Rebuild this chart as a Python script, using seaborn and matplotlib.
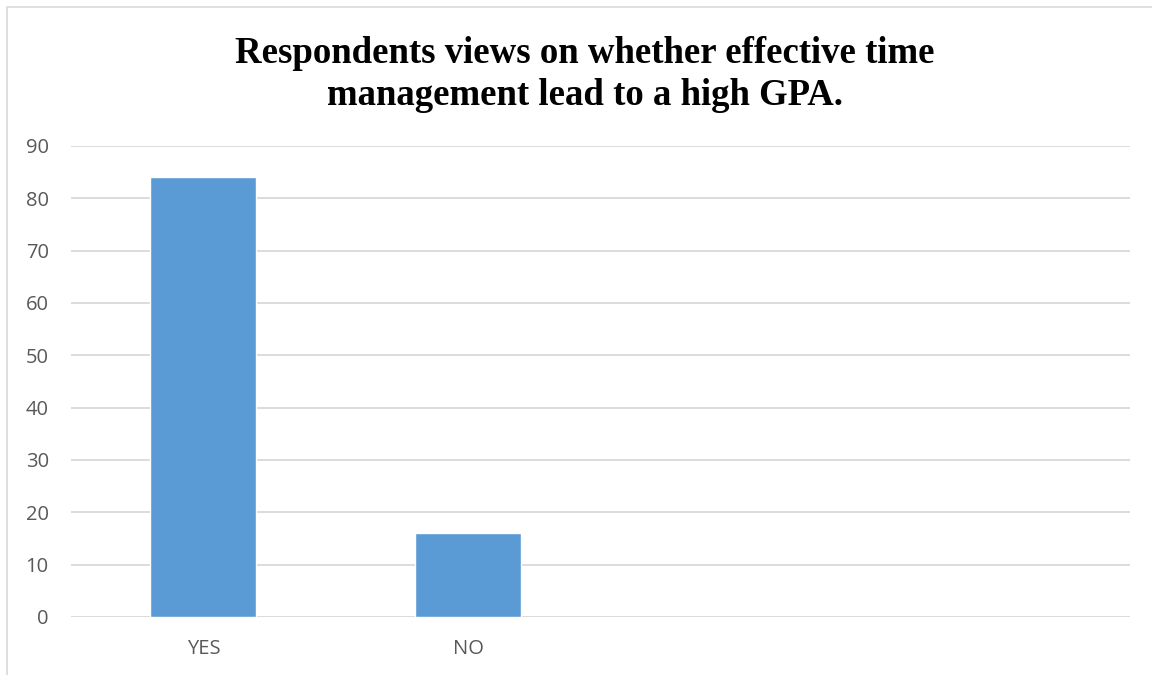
import matplotlib
matplotlib.use("Agg")
import matplotlib.pyplot as plt
import seaborn as sns
import pandas as pd
from matplotlib.patches import Rectangle

categories = ["YES", "NO"]
values = [84, 16]
slots = ["YES", "NO", " ", "  "]
yticks = [0, 10, 20, 30, 40, 50, 60, 70, 80, 90]
title = "Respondents views on whether effective time\nmanagement lead to a high GPA."

sns.set_theme(style="white")
plt.rcParams['font.family'] = ['Open Sans', 'DejaVu Sans']

df = pd.DataFrame({"answer": categories, "count": values})

fig = plt.figure(figsize=(11.52, 6.75), dpi=100)
ax = fig.add_axes([71/1152, 58/675, (1130-71)/1152, (617-146)/675])

sns.barplot(data=df, x="answer", y="count", order=slots, color="#5B9BD5",
            saturation=1, width=0.4, ax=ax, zorder=3)

ax.set_xlim(-0.5, 3.5)
ax.set_ylim(0, 90)
ax.set_yticks(yticks)
ax.yaxis.grid(True, color="#D9D9D9", linewidth=1.3, zorder=0)
ax.set_axisbelow(True)
for s in ax.spines.values():
    s.set_visible(False)
ax.tick_params(axis="both", length=0, labelsize=14.5, labelcolor="#595959")
ax.tick_params(axis="y", pad=16)
ax.tick_params(axis="x", pad=16)
ax.set_xlabel("")
ax.set_ylabel("")

fig.text(0.508, 0.947, title, ha="center", va="top", fontsize=26.5, fontweight="bold",
         color="black", family=["Liberation Serif", "DejaVu Serif"], linespacing=1.28)

fig.patches.append(Rectangle((7/1152, -0.01), 1.02, 1 - 7/675 + 0.01, transform=fig.transFigure,
                             fill=False, edgecolor="#D9D9D9", linewidth=1.2))

fig.savefig("out.png", dpi=100)
